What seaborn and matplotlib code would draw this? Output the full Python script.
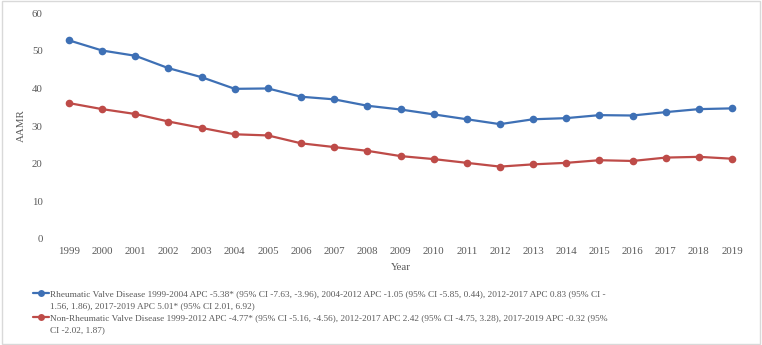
import pandas as pd
import seaborn as sns
import matplotlib.pyplot as plt
from matplotlib.lines import Line2D
from matplotlib.patches import Rectangle

years = list(range(1999, 2020))
rheumatic = [52.8, 50.1, 48.7, 45.4, 43.0, 39.9, 40.0, 37.8, 37.1, 35.4, 34.4,
             33.1, 31.8, 30.5, 31.8, 32.1, 32.9, 32.8, 33.7, 34.5, 34.7]
non_rheumatic = [36.1, 34.5, 33.2, 31.2, 29.5, 27.8, 27.5, 25.4, 24.4, 23.4, 22.0,
                 21.2, 20.2, 19.2, 19.8, 20.2, 20.9, 20.7, 21.6, 21.8, 21.3]
series_names = ['Rheumatic Valve Disease', 'Non-Rheumatic Valve Disease']
legend_lines = [
    ['Rheumatic Valve Disease 1999-2004 APC -5.38* (95% CI -7.63, -3.96), 2004-2012 APC -1.05 (95% CI -5.85, 0.44), 2012-2017 APC 0.83 (95% CI -',
     '1.56, 1.86), 2017-2019 APC 5.01* (95% CI 2.01, 6.92)'],
    ['Non-Rheumatic Valve Disease 1999-2012 APC -4.77* (95% CI -5.16, -4.56), 2012-2017 APC 2.42 (95% CI -4.75, 3.28), 2017-2019 APC -0.32 (95%',
     'CI -2.02, 1.87)'],
]
colors = ['#3E70B5', '#BE4B48']

df = pd.DataFrame({
    'Year': years * 2,
    'AAMR': rheumatic + non_rheumatic,
    'series': [series_names[0]] * len(years) + [series_names[1]] * len(years),
})

sns.set_style('white')
plt.rcParams['font.family'] = ['Liberation Serif', 'DejaVu Serif']

fig = plt.figure(figsize=(7.62, 3.45), dpi=100)
ax = fig.add_axes([0.0688, 0.308, 0.9136, 0.6534])

sns.lineplot(data=df, x='Year', y='AAMR', hue='series', palette=colors,
             marker='o', markersize=5.5, markeredgewidth=0, linewidth=1.6,
             legend=False, ax=ax)

ax.set_xlim(1998.5, 2019.5)
ax.set_ylim(0, 60)
ax.set_xticks(years)
ax.set_yticks(range(0, 61, 10))
ax.tick_params(axis='both', length=0, labelsize=7.8, labelcolor='#595959')
ax.tick_params(axis='y', pad=7)
ax.tick_params(axis='x', pad=6)
for s in ax.spines.values():
    s.set_visible(False)
ax.set_xlabel('Year', fontsize=7.8, color='#595959', labelpad=5)
ax.set_ylabel('AAMR', fontsize=7.8, color='#595959', labelpad=4)

handles, labels = [], []
for c, lines in zip(colors, legend_lines):
    handles.append(Line2D([], [], color=c, marker='o', markersize=5, lw=1.6, markeredgewidth=0))
    labels.append(lines[0])
    handles.append(Line2D([], [], linestyle='none'))
    labels.append(lines[1])
leg = fig.legend(handles, labels, loc='upper left', bbox_to_anchor=(0.0433, 0.159),
                 frameon=False, fontsize=6.7, handlelength=1.75, handletextpad=0.12,
                 labelspacing=0.36, borderaxespad=0, borderpad=0)
for t in leg.get_texts():
    t.set_color('#595959')

fig.patches.append(Rectangle((0.002, 0.004), 0.995, 0.992, transform=fig.transFigure,
                             fill=False, edgecolor='#D9D9D9', lw=1))

plt.savefig('out.png', dpi=100)
